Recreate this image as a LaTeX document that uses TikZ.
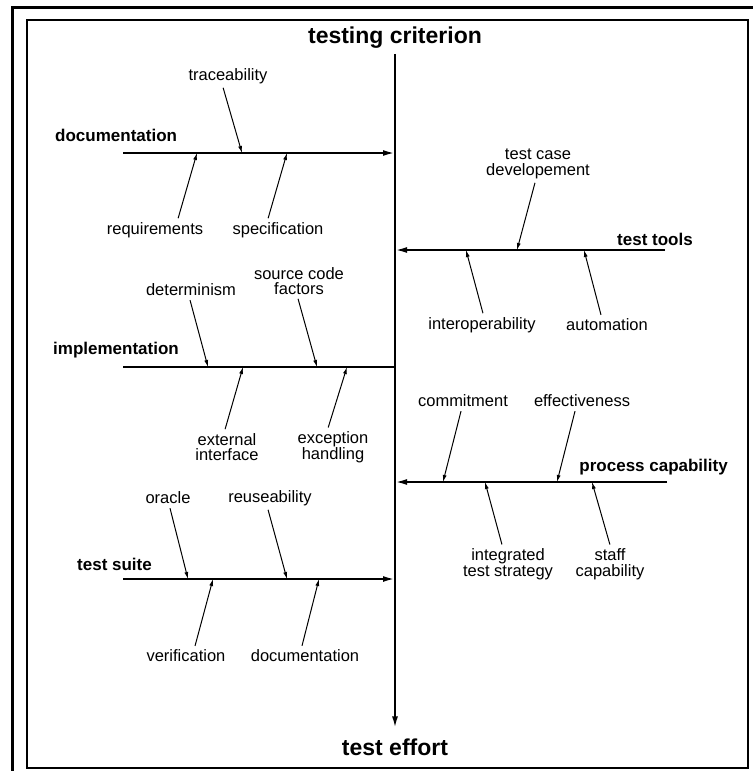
\documentclass[tikz,border=0pt]{standalone}
\usepackage{fontspec}
\setmainfont{Liberation Sans}
\usetikzlibrary{arrows.meta}

\begin{document}
\begin{tikzpicture}[x=1pt,y=-1pt,
  factor/.style={font=\fontsize{16.5}{15.5}\selectfont,align=center,inner sep=0pt},
  cat/.style={font=\fontsize{17}{20}\selectfont\bfseries,inner sep=0pt},
  title/.style={font=\fontsize{23}{26}\selectfont\bfseries,inner sep=0pt},
  bone/.style={line width=1.6pt,-{Latex[length=11pt,width=6pt]}},
  rib/.style={line width=1pt,-{Latex[length=7pt,width=4pt]},shorten <=4pt}]
  \useasboundingbox (0,0) rectangle (753,771);
  \draw[line width=3pt] (12,771) -- (12,7) -- (753,7);
  \draw[line width=1.5pt] (27,20) rectangle (748,768);

  % spine
  \node[title] (crit) at (395,38) {testing criterion};
  \node[title] (effort) at (395,747) {test effort};
  \draw[bone] ([yshift=-5pt]crit.south) -- ([yshift=11pt]effort.north);

  % left bones
  \node[cat,anchor=west] (doc) at (55,135) {documentation};
  \node[cat,anchor=west] (impl) at (53,350) {implementation};
  \node[cat,anchor=west] (suite) at (77,564) {test suite};
  \coordinate (doc-s) at (123,153);  \coordinate (doc-e) at (394,153);
  \coordinate (impl-s) at (123,367); \coordinate (impl-e) at (395,367);
  \coordinate (suite-s) at (123,579); \coordinate (suite-e) at (394,579);
  \draw[bone] (doc-s) -- (doc-e);
  \draw[line width=1.6pt] (impl-s) -- (impl-e);
  \draw[bone] (suite-s) -- (suite-e);

  % right bones
  \node[cat,anchor=east] (tools) at (693,239) {test tools};
  \node[cat,anchor=east] (proc) at (728,467) {process capability};
  \coordinate (tools-s) at (665,250); \coordinate (tools-e) at (396,250);
  \coordinate (proc-s) at (667,482);  \coordinate (proc-e) at (396,482);
  \draw[bone] (tools-s) -- (tools-e);
  \draw[bone] (proc-s) -- (proc-e);

  % documentation
  \node[factor] (trace) at (228,76) {traceability};
  \node[factor] (req) at (155,230) {requirements};
  \node[factor] (spec) at (278,230) {specification};
  \coordinate (doc-1) at (197,153);
  \coordinate (doc-2) at (242,153);
  \coordinate (doc-3) at (287,153);
  \draw[rib] ([xshift=-6pt]trace.south) -- (doc-2);
  \draw[rib] ([xshift=22pt]req.north) -- (doc-1);
  \draw[rib] ([xshift=-11pt]spec.north) -- (doc-3);

  % test tools
  \node[factor] (tcd) at (538,164) {test case\\developement};
  \node[factor] (interop) at (482,325) {interoperability};
  \node[factor] (autom) at (607,325) {automation};
  \coordinate (tools-1) at (466,250);
  \coordinate (tools-2) at (517,250);
  \coordinate (tools-3) at (584,250);
  \draw[rib] ([xshift=-2pt]tcd.south) -- (tools-2);
  \draw[rib] ([xshift=2pt]interop.north) -- (tools-1);
  \draw[rib] ([xshift=-5pt]autom.north) -- (tools-3);

  % implementation
  \node[factor] (determ) at (191,290) {determinism};
  \node[factor] (srccode) at (299,281) {source code\\factors};
  \node[factor] (extif) at (227,447) {external\\interface};
  \node[factor] (exhand) at (333,447) {exception\\handling};
  \coordinate (impl-1) at (208,367);
  \coordinate (impl-2) at (243,367);
  \coordinate (impl-3) at (317,367);
  \coordinate (impl-4) at (347,367);
  \draw[rib] ([xshift=-2pt]determ.south) -- (impl-1);
  \draw[rib] ([xshift=-2pt]srccode.south) -- (impl-3);
  \draw[rib] ([xshift=-3pt]extif.north) -- (impl-2);
  \draw[rib] ([xshift=-6pt]exhand.north) -- (impl-4);

  % process capability
  \node[factor] (commit) at (463,401) {commitment};
  \node[factor] (effect) at (582,401) {effectiveness};
  \node[factor] (integ) at (508,564) {integrated\\test strategy};
  \node[factor] (staff) at (610,564) {staff\\capability};
  \coordinate (proc-1) at (443,482);
  \coordinate (proc-2) at (485,482);
  \coordinate (proc-3) at (557,482);
  \coordinate (proc-4) at (592,482);
  \draw[rib] ([xshift=-1pt]commit.south) -- (proc-1);
  \draw[rib] ([xshift=-6pt]effect.south) -- (proc-3);
  \draw[rib] ([xshift=-5pt]integ.north) -- (proc-2);
  \draw[rib] ([xshift=1pt]staff.north) -- (proc-4);

  % test suite
  \node[factor] (oracle) at (168,498) {oracle};
  \node[factor] (reuse) at (270,498) {reuseability};
  \node[factor] (verif) at (186,656) {verification};
  \node[factor] (docu) at (305,656) {documentation};
  \coordinate (suite-1) at (188,579);
  \coordinate (suite-2) at (213,579);
  \coordinate (suite-3) at (287,579);
  \coordinate (suite-4) at (319,579);
  \draw[rib] ([xshift=1pt]oracle.south) -- (suite-1);
  \draw[rib] ([xshift=-3pt]reuse.south) -- (suite-3);
  \draw[rib] ([xshift=8pt]verif.north) -- (suite-2);
  \draw[rib] ([xshift=-4pt]docu.north) -- (suite-4);
\end{tikzpicture}
\end{document}
